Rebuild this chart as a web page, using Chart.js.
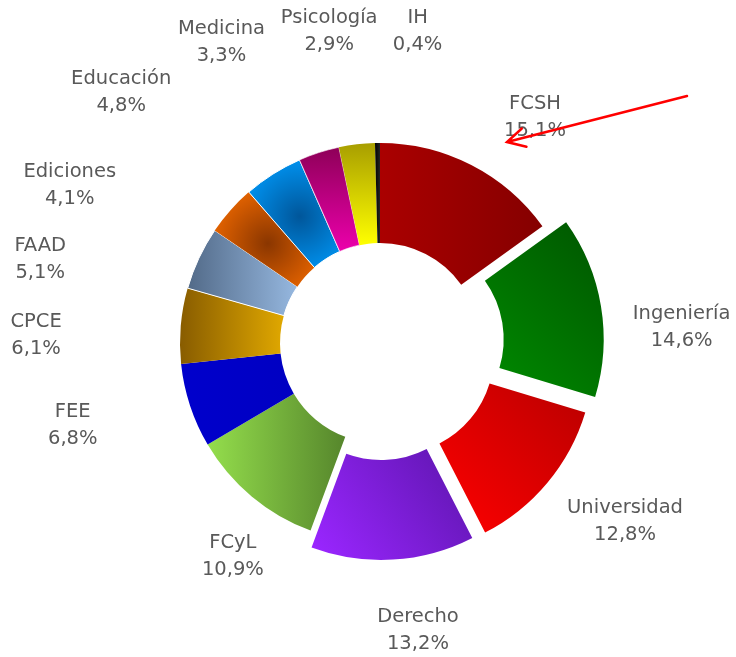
<!DOCTYPE html>
<html lang="es">
<head>
<meta charset="utf-8">
<title>Distribución por unidad</title>
<script src="https://cdn.jsdelivr.net/npm/chart.js@4.4.1/dist/chart.umd.min.js"></script>
<style>
    html, body { margin: 0; padding: 0; background: #ffffff; }
    #wrap { position: relative; width: 736px; height: 657px; }
</style>
</head>
<body>
<div id="wrap"><canvas id="units-chart"></canvas></div>
<script>
// Share of each unit (%), clockwise from twelve o'clock
const units = ['FCSH', 'Ingeniería', 'Universidad', 'Derecho', 'FCyL', 'FEE', 'CPCE', 'FAAD', 'Ediciones', 'Educación', 'Medicina', 'Psicología', 'IH'];
const shares = [15.1, 14.6, 12.8, 13.2, 10.9, 6.8, 6.1, 5.1, 4.1, 4.8, 3.3, 2.9, 0.4];

// How far each slice is pulled out of the ring (px)
const explode = [0, 24, 18, 17, 0, 0, 0, 0, 0, 0, 0, 0, 0];

// Slice fills: linear (from -> to along dir, degrees) or radial (centre -> edge)
const shades = [
    { kind: 'linear', from: '#aa0000', to: '#850000', dir: 0 },
    { kind: 'linear', from: '#008400', to: '#005c00', dir: -45 },
    { kind: 'linear', from: '#f40000', to: '#c00000', dir: -45 },
    { kind: 'linear', from: '#9a26ff', to: '#6818bc', dir: -35 },
    { kind: 'linear', from: '#94de4c', to: '#56862c', dir: 0 },
    { kind: 'linear', from: '#0000cc', to: '#0000c2', dir: 0 },
    { kind: 'linear', from: '#885c00', to: '#e0a800', dir: 0 },
    { kind: 'linear', from: '#526a88', to: '#96b8e0', dir: 0 },
    { kind: 'radial', from: '#8a3600', to: '#e26200', reach: 55 },
    { kind: 'radial', from: '#00569a', to: '#0094f2', reach: 60 },
    { kind: 'linear', from: '#8e0058', to: '#ec00ac', dir: 90 },
    { kind: 'linear', from: '#a89e00', to: '#ffff00', dir: 90 },
    { kind: 'linear', from: '#000000', to: '#222222', dir: 0 }
];
const seams = [0, 0, 0, 0, 0, 0, 0, 1, 0, 1, 0.6, 0, 0];

// Label placement: turn away from the slice's middle angle (deg), distance from centre (px)
const labelTurn = [7.3, 6.5, -3.8, -4.1, -5.3, 3.3, -3.7, -11.2, -14.7, -13.6, -10, -2.6, 7.6];
const labelDist = [274, 302, 303, 290, 259, 318, 344, 350, 348, 360, 340, 316, 314];

const OUTER = 200;
const INNER = 100;

function sliceFill(context) {
    const chart = context.chart;
    const area = chart.chartArea;
    const i = context.dataIndex;
    const s = shades[i];
    if (!area) return s.from;

    const total = shares.reduce((a, b) => a + b, 0);
    const before = shares.slice(0, i).reduce((a, b) => a + b, 0);
    const a0 = -Math.PI / 2 + 2 * Math.PI * before / total;
    const a1 = a0 + 2 * Math.PI * shares[i] / total;
    const cx = (area.left + area.right) / 2;
    const cy = (area.top + area.bottom) / 2;
    const ctx = chart.ctx;

    if (s.kind === 'radial') {
        const mid = (a0 + a1) / 2;
        const px = cx + Math.cos(mid) * (OUTER + INNER) / 2;
        const py = cy + Math.sin(mid) * (OUTER + INNER) / 2;
        const g = ctx.createRadialGradient(px, py, 0, px, py, s.reach);
        g.addColorStop(0, s.from);
        g.addColorStop(1, s.to);
        return g;
    }

    // project the slice outline onto the gradient direction
    const d = s.dir * Math.PI / 180;
    const ux = Math.cos(d), uy = Math.sin(d);
    let lo = Infinity, hi = -Infinity;
    for (let k = 0; k <= 24; k++) {
        const a = a0 + (a1 - a0) * k / 24;
        [INNER, OUTER].forEach(r => {
            const p = (cx + Math.cos(a) * r) * ux + (cy + Math.sin(a) * r) * uy;
            lo = Math.min(lo, p);
            hi = Math.max(hi, p);
        });
    }
    const g = ctx.createLinearGradient(lo * ux, lo * uy, hi * ux, hi * uy);
    g.addColorStop(0, s.from);
    g.addColorStop(1, s.to);
    return g;
}

// Draw arcs ourselves so pulled-out slices keep their radius
const explodedArcs = {
    id: 'explodedArcs',
    beforeDatasetDraw(chart, args) {
        const ctx = chart.ctx;
        args.meta.data.forEach((arc, i) => {
            const mid = (arc.startAngle + arc.endAngle) / 2;
            ctx.save();
            ctx.translate(Math.cos(mid) * explode[i], Math.sin(mid) * explode[i]);
            arc.draw(ctx);
            ctx.restore();
        });
        return false;
    }
};

const sliceLabels = {
    id: 'sliceLabels',
    afterDatasetsDraw(chart) {
        const ctx = chart.ctx;
        const meta = chart.getDatasetMeta(0);
        ctx.save();
        ctx.font = '19.5px "DejaVu Sans"';
        ctx.fillStyle = '#595959';
        ctx.textAlign = 'center';
        ctx.textBaseline = 'middle';
        meta.data.forEach((arc, i) => {
            const a = (arc.startAngle + arc.endAngle) / 2 + labelTurn[i] * Math.PI / 180;
            const x = arc.x + Math.cos(a) * labelDist[i];
            const y = arc.y + Math.sin(a) * labelDist[i];
            ctx.fillText(units[i], x, y - 13.5);
            ctx.fillText(shares[i].toFixed(1).replace('.', ',') + '%', x, y + 13.5);
        });
        ctx.restore();
    }
};

// Red pointer aimed at the FCSH label
const pointer = {
    id: 'pointer',
    afterDraw(chart) {
        const ctx = chart.ctx;
        const tail = { x: 687, y: 96 };
        const tip = { x: 507, y: 142 };
        const back = Math.atan2(tail.y - tip.y, tail.x - tip.x);
        const spread = 28 * Math.PI / 180;
        ctx.save();
        ctx.strokeStyle = '#ff0000';
        ctx.lineWidth = 2.5;
        ctx.lineCap = 'round';
        ctx.beginPath();
        ctx.moveTo(tail.x, tail.y);
        ctx.lineTo(tip.x, tip.y);
        ctx.moveTo(tip.x + Math.cos(back - spread) * 20, tip.y + Math.sin(back - spread) * 20);
        ctx.lineTo(tip.x, tip.y);
        ctx.lineTo(tip.x + Math.cos(back + spread) * 20, tip.y + Math.sin(back + spread) * 20);
        ctx.stroke();
        ctx.restore();
    }
};

new Chart(document.getElementById('units-chart'), {
    type: 'doughnut',
    data: {
        labels: units,
        datasets: [{
            data: shares,
            backgroundColor: sliceFill,
            borderColor: '#ffffff',
            borderWidth: seams
        }]
    },
    options: {
        responsive: true,
        maintainAspectRatio: false,
        animation: false,
        events: [],
        radius: OUTER,
        cutout: '50%',
        layout: {
            padding: { left: 24, top: 29, right: 0, bottom: 0 }
        },
        plugins: {
            legend: { display: false },
            tooltip: { enabled: false }
        }
    },
    plugins: [explodedArcs, sliceLabels, pointer]
});
</script>
</body>
</html>
